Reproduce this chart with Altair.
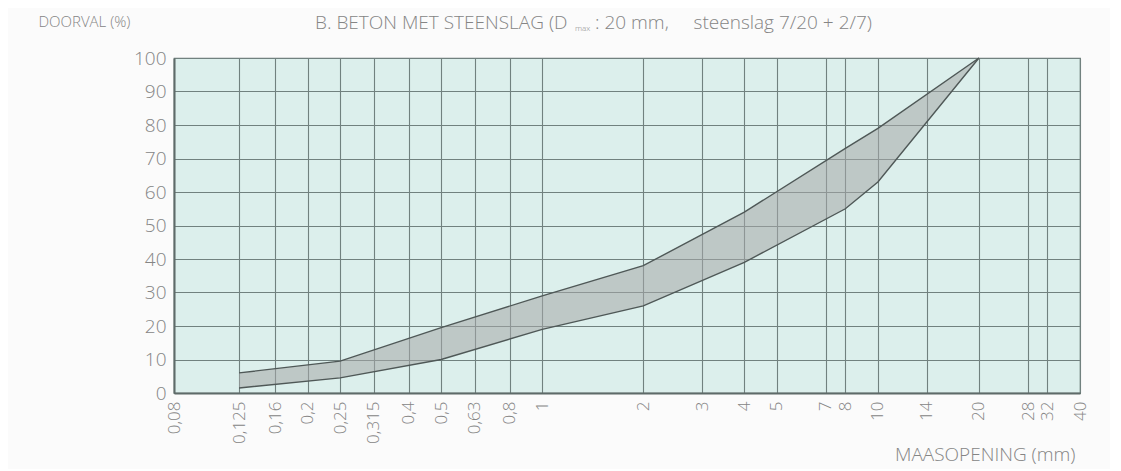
import altair as alt
import pandas as pd

# Sieve openings (mm) and passing percentages (envelope)
sieve = [0.125, 0.25, 0.5, 1, 2, 4, 8, 10, 20]
upper = [6, 9.5, 19.5, 29, 38, 54, 73, 79, 100]
lower = [1.5, 4.5, 10, 19, 26, 39, 55, 63, 100]

x_ticks = [0.08, 0.125, 0.16, 0.2, 0.25, 0.315, 0.4, 0.5, 0.63, 0.8, 1,
           2, 3, 4, 5, 7, 8, 10, 14, 20, 28, 32, 40]
y_ticks = [0, 10, 20, 30, 40, 50, 60, 70, 80, 90, 100]

title_parts = ["B. BETON MET STEENSLAG (D", "max", ": 20 mm,",
               "steenslag 7/20 + 2/7)"]

df = pd.DataFrame({"sieve": sieve, "upper": upper, "lower": lower})

FONT = "Open Sans"
TXT = "#858585"
GRID = "#71817f"

xscale = alt.Scale(type="log", domain=[0.08, 40], nice=False)
yscale = alt.Scale(domain=[0, 100], nice=False)

xaxis = alt.Axis(
    values=x_ticks, labelExpr="replace(toString(datum.value), '.', ',')",
    labelAngle=270, labelAlign="right", labelBaseline="middle",
    labelFontSize=17, labelColor=TXT, labelFont=FONT, labelFontWeight=300,
    labelPadding=8,
    ticks=False, grid=True, gridColor=GRID, gridWidth=1.1,
    domain=True, domainColor="#5e6b69", domainWidth=2,
    labelOverlap=False, labelFlush=False,
    title="MAASOPENING (mm)", titleFont=FONT, titleFontSize=19,
    titleFontWeight=300, titleColor=TXT,
    titleAlign="right", titleBaseline="middle", titleX=901, titleY=61,
)
yaxis = alt.Axis(
    values=y_ticks, labelFontSize=19, labelColor=TXT, labelFont=FONT,
    labelFontWeight=300, labelOverlap=False,
    labelPadding=8, ticks=False, grid=True, gridColor=GRID, gridWidth=1.1,
    domain=True, domainColor="#5e6b69", domainWidth=2,
    title="DOORVAL (%)", titleFont=FONT, titleFontSize=15,
    titleFontWeight=300, titleColor=TXT, titleAngle=0,
    titleAlign="left", titleBaseline="middle", titleX=-136, titleY=-37,
)

xenc = alt.X("sieve:Q", scale=xscale, axis=xaxis)

base = alt.Chart(df)

band = base.mark_area(color="#a6a8a8", opacity=0.55).encode(
    x=xenc,
    y=alt.Y("upper:Q", scale=yscale, axis=yaxis),
    y2="lower:Q",
)
line_up = base.mark_line(color="#4f5857", strokeWidth=1.4).encode(
    x=xenc, y=alt.Y("upper:Q", scale=yscale, axis=yaxis)
)
line_lo = base.mark_line(color="#4f5857", strokeWidth=1.4).encode(
    x=xenc, y=alt.Y("lower:Q", scale=yscale, axis=yaxis)
)

tdf = pd.DataFrame({"t": title_parts, "k": list(range(len(title_parts)))})


def title_piece(k, size, xpos, ypos, align):
    return alt.Chart(tdf).transform_filter(f"datum.k == {k}").mark_text(
        font=FONT, fontSize=size, fontWeight=300, color=TXT,
        align=align, baseline="middle"
    ).encode(text="t:N", x=alt.value(xpos), y=alt.value(ypos))


titles = [
    title_piece(0, 19, 141, -35, "left"),
    title_piece(1, 8, 401, -29, "left"),
    title_piece(2, 19, 421, -35, "left"),
    title_piece(3, 19, 698, -35, "right"),
]

chart = alt.layer(band, line_up, line_lo, *titles).properties(
    width=906, height=335,
    autosize=alt.AutoSizeParams(type="none"),
    padding={"left": 166, "top": 50, "right": 30, "bottom": 76},
    background="#fbfbfb",
).configure_view(
    fill="#dcefec", stroke="#6b7a78", strokeWidth=1.2
)

chart.save("out.html", embed_options={"renderer": "svg", "actions": False})
